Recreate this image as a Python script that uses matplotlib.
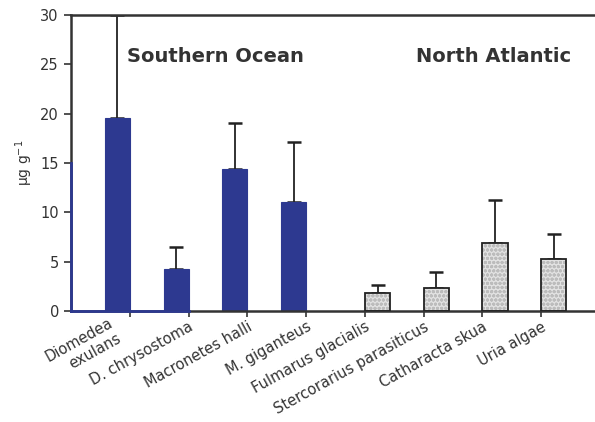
import matplotlib.pyplot as plt
from matplotlib.transforms import ScaledTranslation
import numpy as np

plt.rcParams['font.family'] = ['DejaVu Sans']

# Mercury concentrations in seabird feathers by region
south_species = ['Diomedea\nexulans', 'D. chrysostoma', 'Macronetes halli', 'M. giganteus']
south_mean = [19.6, 4.3, 14.4, 11.05]
south_err = [10.4, 2.2, 4.65, 6.05]

north_species = ['Fulmarus glacialis', 'Stercorarius parasiticus', 'Catharacta skua', 'Uria algae']
north_mean = [1.8, 2.3, 6.9, 5.3]
north_err = [0.8, 1.65, 4.35, 2.5]

blue = '#2d3990'
ink = '#333333'
width = 0.43

fig = plt.figure(figsize=(5.95, 4.22), dpi=100)
ax = fig.add_axes([0.12, 0.263, 0.88, 0.7015])

# category edges sit at 1..8; Southern Ocean bars lie left of their edge,
# North Atlantic bars right of it
edges_s = np.arange(1, len(south_species) + 1)
edges_n = np.arange(5, 5 + len(north_species))
xs = edges_s - width / 2
xn = edges_n + width / 2

ax.bar(xs, south_mean, width, color=blue, edgecolor=blue, linewidth=0.8, zorder=2)
ax.errorbar(xs, south_mean, yerr=[np.zeros(4), south_err], fmt='none',
            ecolor='#222222', elinewidth=1.3, capsize=5, capthick=1.8, zorder=1)

plt.rcParams['hatch.color'] = '#bcbcbc'
plt.rcParams['hatch.linewidth'] = 1.0
ax.bar(xn, north_mean, width, color='#e2e2e2', hatch='oooo', edgecolor='#bcbcbc',
       linewidth=0, zorder=2)
ax.bar(xn, north_mean, width, fill=False, edgecolor='#222222', linewidth=1.3, zorder=3)
ax.errorbar(xn, north_mean, yerr=[np.zeros(4), north_err], fmt='none',
            ecolor='#222222', elinewidth=1.3, capsize=5, capthick=1.8, zorder=1)

ax.set_xlim(0, 8.92)
ax.set_ylim(0, 30)
ax.set_yticks(np.arange(0, 31, 5))
ax.tick_params(axis='y', length=5, width=1.2, labelsize=10.5, colors=ink, pad=4)

ax.set_xticks(np.concatenate([edges_s, edges_n]), south_species + north_species,
              rotation=29, ha='right', va='top', rotation_mode='anchor', fontsize=10.5)
ax.tick_params(axis='x', length=4, width=1.2, pad=2, colors=ink)
first = ax.get_xticklabels()[0]
first.set_transform(first.get_transform() + ScaledTranslation(-0.22, 0.04, fig.dpi_scale_trans))

ax.spines['right'].set_visible(False)
for side in ['top', 'left', 'bottom']:
    ax.spines[side].set_color(ink)
    ax.spines[side].set_linewidth(1.8)

# blue overdraw along the lower part of the axes
ax.plot([0, 0], [0, 15], color=blue, lw=2, clip_on=False, zorder=4)
ax.plot([0, 2], [0, 0], color=blue, lw=2, clip_on=False, zorder=4)

ax.set_ylabel('µg g$^{-1}$', fontsize=10, color=ink, labelpad=4)

ax.text(0.95, 25.8, 'Southern Ocean', fontsize=14, fontweight='bold', color=ink,
        va='center', ha='left')
ax.text(5.87, 25.8, 'North Atlantic', fontsize=14, fontweight='bold', color=ink,
        va='center', ha='left')

fig.savefig('out.png', dpi=100)
